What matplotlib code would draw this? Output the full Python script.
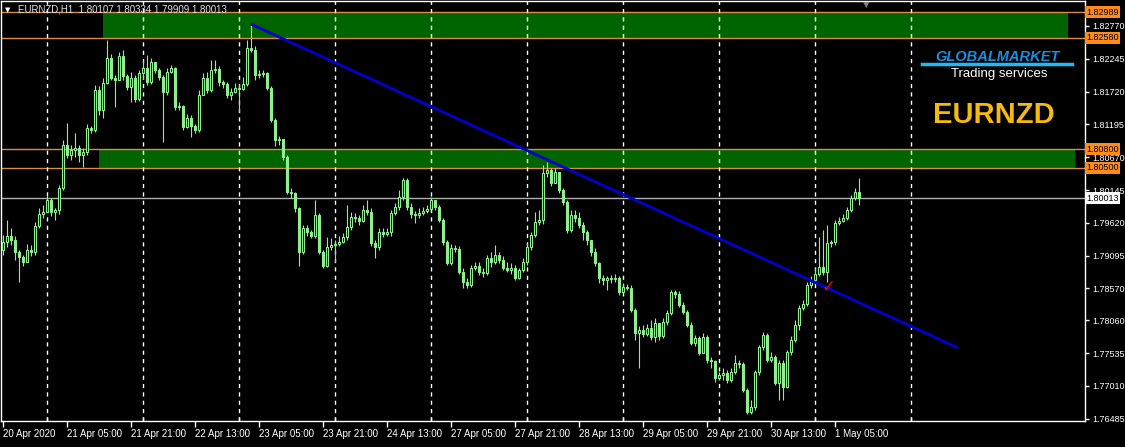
import matplotlib
matplotlib.use('Agg')
import matplotlib.pyplot as plt
from matplotlib.lines import Line2D

plt.rcParams['font.family'] = ['Liberation Sans', 'DejaVu Sans']

# EURNZD H1, first bar = 20 Apr 2020 13:00
first_open = 1.7919

closes = [
    1.7931, 1.7941, 1.7935, 1.7915, 1.7907, 1.7899, 1.7919, 1.7915, 1.7957, 1.7976,
    1.7979, 1.7999, 1.7979, 1.7983, 1.8018, 1.8087, 1.8071, 1.8079, 1.8082, 1.8071,
    1.8075, 1.8114, 1.8111, 1.8175, 1.8143, 1.8186, 1.8226, 1.8194, 1.8191, 1.8229,
    1.8197, 1.8179, 1.8194, 1.8160, 1.8202, 1.8210, 1.8187, 1.8219, 1.8207, 1.8195,
    1.8171, 1.8203, 1.8210, 1.8147, 1.8149, 1.8115, 1.8130, 1.8117, 1.8111, 1.8167,
    1.8194, 1.8175, 1.8207, 1.8208, 1.8187, 1.8184, 1.8167, 1.8171, 1.8178, 1.8176,
    1.8184, 1.8242, 1.8239, 1.8199, 1.8200, 1.8202, 1.8178, 1.8127, 1.8095, 1.8096,
    1.8067, 1.8011, 1.8010, 1.7986, 1.7915, 1.7954, 1.7947, 1.7941, 1.7975, 1.7915,
    1.7893, 1.7923, 1.7927, 1.7928, 1.7931, 1.7939, 1.7955, 1.7971, 1.7970, 1.7965,
    1.7983, 1.7979, 1.7930, 1.7923, 1.7947, 1.7944, 1.7947, 1.7978, 1.7987, 1.8003,
    1.8031, 1.7987, 1.7976, 1.7975, 1.7978, 1.7981, 1.7984, 1.7999, 1.7987, 1.7967,
    1.7931, 1.7898, 1.7922, 1.7920, 1.7883, 1.7867, 1.7863, 1.7890, 1.7893, 1.7883,
    1.7882, 1.7906, 1.7899, 1.7911, 1.7903, 1.7890, 1.7887, 1.7890, 1.7874, 1.7887,
    1.7899, 1.7923, 1.7943, 1.7963, 1.7967, 1.8042, 1.8047, 1.8026, 1.8043, 1.8015,
    1.7995, 1.7951, 1.7975, 1.7970, 1.7959, 1.7947, 1.7935, 1.7915, 1.7898, 1.7874,
    1.7871, 1.7874, 1.7872, 1.7874, 1.7851, 1.7859, 1.7858, 1.7823, 1.7786, 1.7791,
    1.7784, 1.7794, 1.7779, 1.7802, 1.7781, 1.7803, 1.7818, 1.7851, 1.7848, 1.7831,
    1.7819, 1.7799, 1.7770, 1.7778, 1.7754, 1.7779, 1.7743, 1.7741, 1.7714, 1.7719,
    1.7722, 1.7711, 1.7723, 1.7738, 1.7736, 1.7695, 1.7659, 1.7667, 1.7723, 1.7763,
    1.7783, 1.7743, 1.7747, 1.7706, 1.7738, 1.7699, 1.7755, 1.7775, 1.7799, 1.7826,
    1.7832, 1.7863, 1.7871, 1.7880, 1.7891, 1.7883, 1.7930, 1.7931, 1.7962, 1.7965,
    1.7970, 1.7983, 1.8002, 1.80107, 1.80013,
]

highs = [
    1.7943, 1.7967, 1.7954, 1.7941, 1.7919, 1.7911, 1.7928, 1.7927, 1.7963, 1.7986,
    1.7991, 1.8007, 1.8002, 1.7986, 1.8023, 1.8095, 1.8122, 1.8087, 1.8106, 1.8087,
    1.8082, 1.8120, 1.8117, 1.8183, 1.8181, 1.8194, 1.8255, 1.8232, 1.8199, 1.8235,
    1.8239, 1.8200, 1.8203, 1.8199, 1.8207, 1.8223, 1.8231, 1.8226, 1.8219, 1.8210,
    1.8199, 1.8210, 1.8215, 1.8211, 1.8155, 1.8151, 1.8136, 1.8135, 1.8120, 1.8175,
    1.8202, 1.8203, 1.8223, 1.8223, 1.8213, 1.8191, 1.8187, 1.8178, 1.8186, 1.8184,
    1.8195, 1.8255, 1.8279, 1.8245, 1.8207, 1.8207, 1.8203, 1.8181, 1.8130, 1.8101,
    1.8096, 1.8071, 1.8018, 1.8011, 1.7987, 1.7959, 1.7959, 1.7951, 1.7999, 1.7978,
    1.7919, 1.7939, 1.7938, 1.7935, 1.7941, 1.7946, 1.7991, 1.7979, 1.7978, 1.7975,
    1.7991, 1.7999, 1.7986, 1.7935, 1.7954, 1.7954, 1.7954, 1.7983, 1.7994, 1.8015,
    1.8034, 1.8034, 1.7994, 1.7981, 1.7986, 1.7987, 1.7991, 1.8003, 1.7999, 1.7991,
    1.7970, 1.7935, 1.7928, 1.7927, 1.7925, 1.7890, 1.7874, 1.7895, 1.7899, 1.7899,
    1.7890, 1.7911, 1.7915, 1.7927, 1.7915, 1.7909, 1.7899, 1.7898, 1.7895, 1.7890,
    1.7906, 1.7930, 1.7947, 1.7979, 1.7983, 1.8055, 1.8059, 1.8050, 1.8050, 1.8043,
    1.8018, 1.7999, 1.7983, 1.7983, 1.7979, 1.7963, 1.7951, 1.7935, 1.7922, 1.7899,
    1.7879, 1.7877, 1.7879, 1.7880, 1.7877, 1.7866, 1.7864, 1.7863, 1.7826, 1.7797,
    1.7799, 1.7800, 1.7807, 1.7810, 1.7794, 1.7810, 1.7823, 1.7855, 1.7855, 1.7853,
    1.7835, 1.7823, 1.7803, 1.7783, 1.7781, 1.7786, 1.7783, 1.7747, 1.7743, 1.7723,
    1.7730, 1.7727, 1.7730, 1.7751, 1.7743, 1.7739, 1.7698, 1.7679, 1.7727, 1.7767,
    1.7787, 1.7786, 1.7755, 1.7751, 1.7743, 1.7743, 1.7759, 1.7781, 1.7807, 1.7831,
    1.7839, 1.7867, 1.7877, 1.7890, 1.7939, 1.7951, 1.7959, 1.7935, 1.7967, 1.7971,
    1.7976, 1.7987, 1.8007, 1.8018, 1.80334,
]

lows = [
    1.7911, 1.7923, 1.7927, 1.7903, 1.7867, 1.7893, 1.7899, 1.7909, 1.7911, 1.7954,
    1.7970, 1.7979, 1.7973, 1.7967, 1.7976, 1.8015, 1.8066, 1.8063, 1.8067, 1.8059,
    1.8051, 1.8071, 1.8106, 1.8107, 1.8135, 1.8130, 1.8185, 1.8191, 1.8147, 1.8191,
    1.8191, 1.8175, 1.8155, 1.8155, 1.8157, 1.8192, 1.8183, 1.8184, 1.8202, 1.8191,
    1.8091, 1.8167, 1.8202, 1.8143, 1.8143, 1.8111, 1.8114, 1.8099, 1.8106, 1.8107,
    1.8167, 1.8170, 1.8171, 1.8202, 1.8181, 1.8178, 1.8162, 1.8159, 1.8170, 1.8139,
    1.8175, 1.8181, 1.8235, 1.8191, 1.8194, 1.8195, 1.8175, 1.8123, 1.8085, 1.8087,
    1.8063, 1.8008, 1.8002, 1.7979, 1.7893, 1.7912, 1.7941, 1.7938, 1.7938, 1.7912,
    1.7890, 1.7891, 1.7919, 1.7899, 1.7925, 1.7930, 1.7935, 1.7951, 1.7963, 1.7959,
    1.7963, 1.7975, 1.7925, 1.7906, 1.7919, 1.7939, 1.7941, 1.7941, 1.7975, 1.7983,
    1.7999, 1.7983, 1.7970, 1.7962, 1.7970, 1.7975, 1.7978, 1.7983, 1.7983, 1.7963,
    1.7927, 1.7895, 1.7895, 1.7915, 1.7880, 1.7858, 1.7858, 1.7859, 1.7887, 1.7879,
    1.7875, 1.7879, 1.7891, 1.7896, 1.7898, 1.7887, 1.7883, 1.7880, 1.7871, 1.7872,
    1.7883, 1.7895, 1.7919, 1.7939, 1.7959, 1.7960, 1.8035, 1.8021, 1.8027, 1.8010,
    1.7991, 1.7946, 1.7947, 1.7963, 1.7954, 1.7935, 1.7927, 1.7909, 1.7893, 1.7866,
    1.7863, 1.7855, 1.7866, 1.7867, 1.7847, 1.7850, 1.7855, 1.7819, 1.7775, 1.7730,
    1.7779, 1.7781, 1.7775, 1.7771, 1.7775, 1.7778, 1.7799, 1.7815, 1.7842, 1.7827,
    1.7816, 1.7795, 1.7767, 1.7765, 1.7751, 1.7755, 1.7738, 1.7730, 1.7707, 1.7711,
    1.7711, 1.7706, 1.7707, 1.7720, 1.7730, 1.7691, 1.7656, 1.7656, 1.7663, 1.7719,
    1.7759, 1.7739, 1.7739, 1.7703, 1.7679, 1.7679, 1.7698, 1.7751, 1.7771, 1.7791,
    1.7823, 1.7829, 1.7858, 1.7867, 1.7877, 1.7879, 1.7867, 1.7923, 1.7927, 1.7959,
    1.7963, 1.7967, 1.7979, 1.7999, 1.79909,
]

opens = [first_open] + closes[:-1]

tick_bars = [0, 16, 32, 48, 64, 80, 96, 112, 128, 144, 160, 176, 192, 208]
tick_labels = ["20 Apr 2020", "21 Apr 05:00", "21 Apr 21:00", "22 Apr 13:00",
               "23 Apr 05:00", "23 Apr 21:00", "24 Apr 13:00", "27 Apr 05:00",
               "27 Apr 21:00", "28 Apr 13:00", "29 Apr 05:00", "29 Apr 21:00",
               "30 Apr 13:00", "1 May 05:00"]
day_bars = [11, 35, 59, 83, 107, 131, 155, 179, 203, 227]

price_ticks = [1.82770, 1.82245, 1.81720, 1.81195, 1.80670, 1.80145,
               1.79620, 1.79095, 1.78570, 1.78060, 1.77535, 1.77010, 1.76485]

levels = [1.82989, 1.82580, 1.80800, 1.80500]
last_price = 1.80013

# zones: (start bar, end bar, low, high)
zones = [(25, 266.25, 1.82580, 1.82989), (24, 268, 1.80500, 1.80800)]

trend_bars = [62, 238.75]
trend_prices = [1.8280, 1.7762]

W, H = 1125, 447
CANDLE = '#90EE90'
ORANGE_LINE = '#D98C4A'
ORANGE_BOX = '#FF8C1A'


def fx(px):
    return px / W


def fy(py):
    return 1 - py / H


def main():
    fig = plt.figure(figsize=(W / 100, H / 100), dpi=100, facecolor='black')
    ax = fig.add_axes([fx(1), 1 - 421 / H, (1085 - 1) / W, 420 / H])
    ax.set_facecolor('black')

    for x0, x1, lo, hi in zones:
        ax.fill_between([x0, x1], lo, hi, color='#006400', lw=0, zorder=0.5)

    for lv in levels:
        ax.axhline(lv, color=ORANGE_LINE, lw=1, zorder=1)
    ax.axhline(last_price, color='#B0B0B0', lw=1, zorder=1)

    for d in day_bars:
        ax.axvline(d, color='white', lw=1, ls=(0, (3, 3)), zorder=1.2)

    xs = list(range(len(closes)))
    ax.vlines(xs, lows, highs, color=CANDLE, lw=0.8, zorder=3)
    bottoms = [min(o, c) for o, c in zip(opens, closes)]
    heights = [abs(c - o) for o, c in zip(opens, closes)]
    faces = ['black' if c > o else CANDLE for o, c in zip(opens, closes)]
    ax.bar(xs, heights, bottom=bottoms, width=0.5, color=faces,
           edgecolor=CANDLE, linewidth=0.8, zorder=3.5)

    ax.plot(trend_bars, trend_prices, color='#0000CD', lw=2, zorder=4,
            solid_capstyle='butt')

    ax.text(206.3, 1.7859, '\u2713', color='red', fontsize=12, ha='center',
            va='center', family=['DejaVu Sans'], zorder=5)

    ax.set_xlim(-0.5, 270.5)
    ax.set_ylim(1.7645, 1.8317)

    for s in ax.spines.values():
        s.set_color('white')
        s.set_linewidth(1)

    ax.yaxis.tick_right()
    ax.set_yticks(price_ticks)
    ax.set_yticklabels(['%.5f' % p for p in price_ticks])
    ax.tick_params(axis='y', colors='white', labelsize=6.5, length=3, width=1, pad=2)

    ax.set_xticks(tick_bars)
    ax.set_xticklabels(tick_labels)
    ax.set_xticks(day_bars, minor=True)
    ax.tick_params(axis='x', colors='white', labelsize=7, length=4, width=1, pad=2)
    ax.tick_params(axis='x', which='minor', direction='in', length=3, width=1, color='white')
    for lbl in ax.get_xticklabels():
        lbl.set_ha('left')

    tr = ax.get_yaxis_transform()
    for lv in levels:
        ax.text(1.0015, lv, '%.5f' % lv, transform=tr, fontsize=6.5, color='black',
                ha='left', va='center', clip_on=False, zorder=6,
                bbox=dict(boxstyle='square,pad=0.15', fc=ORANGE_BOX, ec='none'))
    ax.text(1.0015, last_price, '%.5f' % last_price, transform=tr, fontsize=6.5,
            color='black', ha='left', va='center', clip_on=False, zorder=6,
            bbox=dict(boxstyle='square,pad=0.15', fc='white', ec='none'))

    # header
    fig.text(fx(5), fy(10), '\u25bc', color='white', fontsize=5,
             family=['DejaVu Sans'], va='center')
    fig.text(fx(18), fy(10), 'EURNZD,H1  1.80107 1.80334 1.79909 1.80013',
             color='#E0E0E0', fontsize=7, va='center')
    fig.text(fx(866), fy(5), '\u25bc', color='#808080', fontsize=6,
             family=['DejaVu Sans'], ha='center', va='center')

    # logo
    fig.text(fx(997), fy(57), 'GLOBALMARKET', color='#1A8FE0', fontsize=10.5,
             fontweight='bold', fontstyle='italic', ha='center', va='center')
    fig.add_artist(Line2D([fx(922), fx(1072)], [fy(64), fy(64)],
                          color='#22B8F0', lw=2.5))
    fig.text(fx(999), fy(74), 'Trading services', color='white', fontsize=9.5,
             ha='center', va='center')
    fig.text(fx(994), fy(115), 'EURNZD', color='#F5B90F', fontsize=21,
             fontweight='bold', ha='center', va='center')

    fig.savefig('out.png', dpi=100, facecolor='black')


if __name__ == "__main__": main()
